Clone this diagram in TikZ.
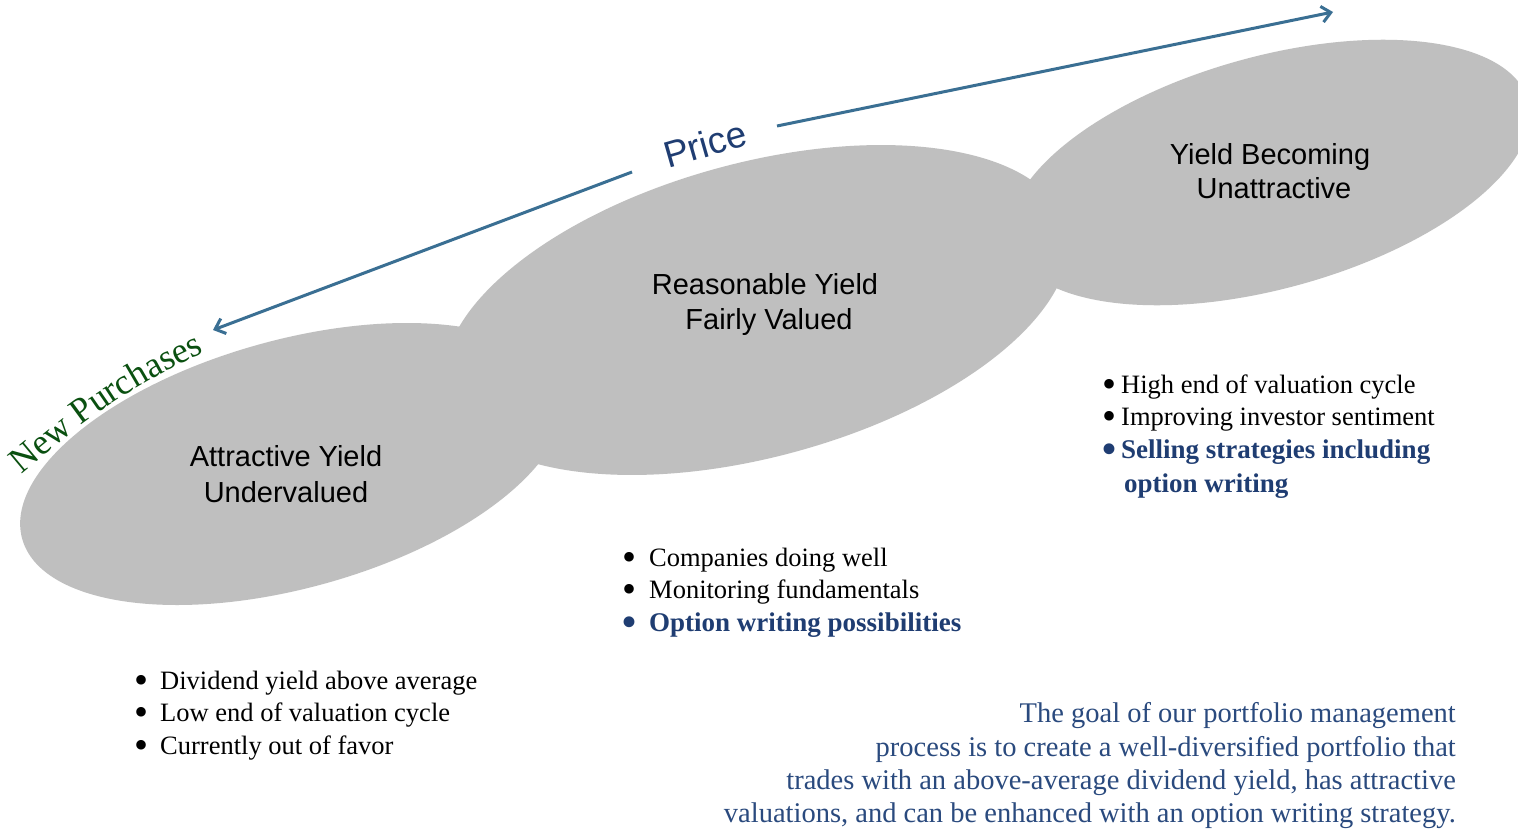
\documentclass[tikz,border=0pt]{standalone}
\usepackage{fontspec}
\setmainfont{Liberation Serif}
\newfontfamily\arialfont{Liberation Sans}
\usetikzlibrary{arrows.meta,decorations.text}
\definecolor{shapegray}{HTML}{BFBFBF}
\definecolor{arrowblue}{HTML}{3A6F93}
\definecolor{textblue}{HTML}{1F3D72}
\definecolor{goalblue}{HTML}{2A4A7E}
\definecolor{newgreen}{HTML}{0A5010}
\newcommand{\bigbul}{\raisebox{-4.5pt}{\fontsize{40}{40}\selectfont •}}
\begin{document}
\begin{tikzpicture}[x=1pt,y=-1pt,
  blob/.style={fill=shapegray},
  blobtext/.style={font=\arialfont\fontsize{29}{36}\selectfont, text=black, inner sep=0pt, anchor=base},
  bul/.style={font=\fontsize{26.5}{33}\selectfont, anchor=base west, inner sep=0pt},
  bulblue/.style={bul, text=textblue, font=\bfseries\fontsize{27}{33}\selectfont},
  goal/.style={font=\fontsize{28.5}{34}\selectfont, text=goalblue, anchor=base east, inner sep=0pt},
  pricearrow/.style={draw=arrowblue, line width=3pt, -{Straight Barb[length=9pt,width=16pt]}},
]
\useasboundingbox (0,0) rectangle (1518,830);
\fill[white] (0,0) rectangle (1518,830);

% ellipses
\fill[blob, rotate around={15.5:(292,464)}] (292,464) ellipse [x radius=280, y radius=124];
\fill[blob, rotate around={15.2:(756.5,310)}] (756.5,310) ellipse [x radius=321, y radius=147];
\fill[blob, rotate around={15.5:(1270,172.5)}] (1270,172.5) ellipse [x radius=268, y radius=116];

% ellipse labels
\node[blobtext] (a1) at (286,466) {Attractive Yield};
\node[blobtext] (a2) at (286,502) {Undervalued};
\node[blobtext] (r1) at (765,294) {Reasonable Yield};
\node[blobtext] (r2) at (769,329) {Fairly Valued};
\node[blobtext] (y1) at (1270,164) {Yield Becoming};
\node[blobtext] (y2) at (1274,198) {Unattractive};

% price arrows
\node[font=\arialfont\fontsize{37}{40}\selectfont, text=textblue, rotate=16, inner sep=0pt] (price) at (705,144) {Price};
\coordinate (p1s) at (632,172);
\coordinate (np) at (213,330);
\coordinate (p2s) at (777,126);
\coordinate (pt) at (1333,12);
\draw[pricearrow] (p1s) -- (np);
\draw[pricearrow] (p2s) -- (pt);

% new purchases
\path[decorate, decoration={text along path, text align=left, text color=newgreen,
  text={|\fontsize{36}{40}\selectfont|New Purchases}}]
  (21,474) .. controls (72,432) and (130,380) .. (240,338);

% left list
\node[bul] (l1) at (134,689) {\makebox[26pt][l]{\bigbul}Dividend yield above average};
\node[bul] (l2) at (134,721) {\makebox[26pt][l]{\bigbul}Low end of valuation cycle};
\node[bul] (l3) at (134,754) {\makebox[26pt][l]{\bigbul}Currently out of favor};

% middle list
\node[bul] (m1) at (622,566) {\makebox[27pt][l]{\bigbul}Companies doing well};
\node[bul] (m2) at (622,598) {\makebox[27pt][l]{\bigbul}Monitoring fundamentals};
\node[bulblue] (m3) at (622,631) {\makebox[27pt][l]{\bigbul}Option writing possibilities};

% right list
\node[bul] (h1) at (1102,393) {\makebox[19pt][l]{\bigbul}High end of valuation cycle};
\node[bul] (h2) at (1102,425) {\makebox[19pt][l]{\bigbul}Improving investor sentiment};
\node[bulblue] (h3) at (1102,458) {\makebox[19pt][l]{\bigbul}Selling strategies including};
\node[bulblue] (h4) at (1124,492) {option writing};

% goal paragraph
\node[goal] (g1) at (1456,722) {The goal of our portfolio management};
\node[goal] (g2) at (1456,756) {process is to create a well-diversified portfolio that};
\node[goal] (g3) at (1456,789) {trades with an above-average dividend yield, has attractive};
\node[goal] (g4) at (1456,822) {valuations, and can be enhanced with an option writing strategy.};
\end{tikzpicture}
\end{document}
